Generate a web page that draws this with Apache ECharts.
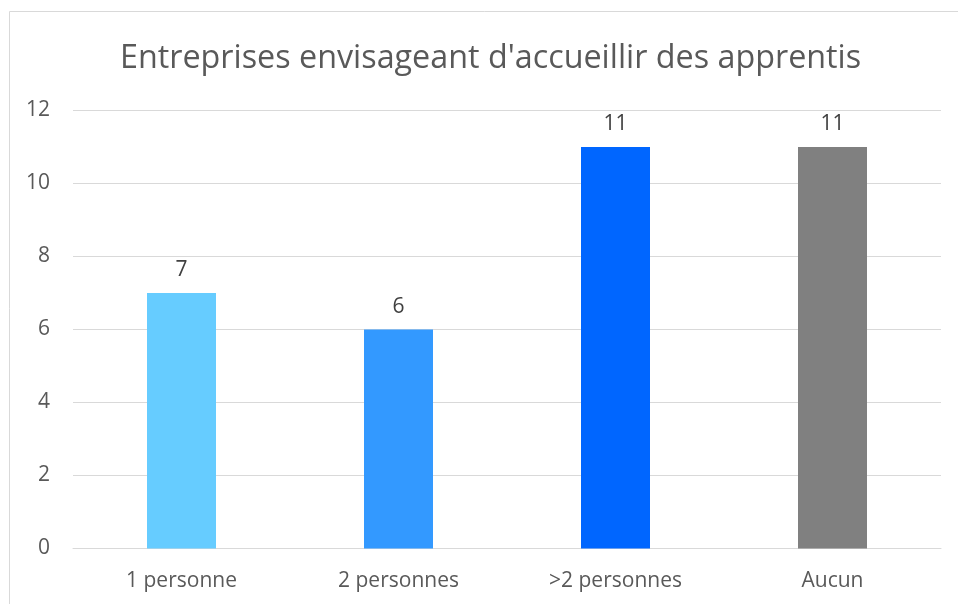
<!DOCTYPE html>
<html>
<head>
<meta charset="utf-8">
<script src="https://cdn.jsdelivr.net/npm/echarts@6/dist/echarts.min.js"></script>
<style>html,body{margin:0;padding:0;background:#fff;}#c{width:958px;height:604px;}</style>
</head>
<body>
<div id="c"></div>
<script>
var titleText = "Entreprises envisageant d'accueillir des apprentis";
var categories = ["1 personne", "2 personnes", ">2 personnes", "Aucun"];
var values = [7, 6, 11, 11];
var barColors = ["#66ccff", "#3399ff", "#0066ff", "#808080"];
var yTicks = [0, 2, 4, 6, 8, 10, 12];

var chart = echarts.init(document.getElementById('c'), null, {renderer: 'canvas'});
var FONT = '"Open Sans", sans-serif';
chart.setOption({
  animation: false,
  graphic: [{
    type: 'rect', shape: {x: 9.5, y: 11.5, width: 1000, height: 700},
    style: {fill: 'none', stroke: '#d9d9d9', lineWidth: 1}, z: -1
  }],
  title: {
    text: titleText, left: 115, top: 38,
    textStyle: {fontFamily: FONT, fontSize: 32.3, fontWeight: 'normal', color: '#595959'}
  },
  grid: {left: 73, right: 17, top: 110.5, bottom: 55.5, containLabel: false},
  xAxis: {
    type: 'category', data: categories,
    axisLine: {lineStyle: {color: '#d9d9d9', width: 1}},
    axisTick: {show: false},
    axisLabel: {fontFamily: FONT, fontSize: 21, color: '#595959', margin: 22}
  },
  yAxis: {
    type: 'value', min: yTicks[0], max: yTicks[yTicks.length - 1], interval: 2,
    axisLine: {show: false}, axisTick: {show: false},
    splitLine: {lineStyle: {color: '#d9d9d9', width: 1}},
    axisLabel: {fontFamily: FONT, fontSize: 21, color: '#595959', margin: 23}
  },
  series: [{
    type: 'bar', barWidth: 69,
    data: values.map(function (v, i) { return {value: v, itemStyle: {color: barColors[i]}}; }),
    label: {show: true, position: 'top', distance: 12, fontFamily: FONT, fontSize: 21, color: '#404040'}
  }]
});
</script>
</body>
</html>
